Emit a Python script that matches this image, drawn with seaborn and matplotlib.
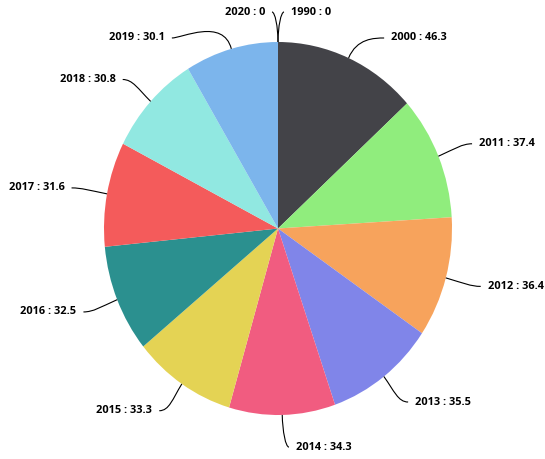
import numpy as np
import matplotlib
matplotlib.use("Agg")
import matplotlib.pyplot as plt
import seaborn as sns
from matplotlib.path import Path
from matplotlib.patches import PathPatch

# ---- data ----
years = ["1990", "2000", "2011", "2012", "2013", "2014", "2015",
         "2016", "2017", "2018", "2019", "2020"]
values = [0, 46.3, 37.4, 36.4, 35.5, 34.3, 33.3, 32.5, 31.6, 30.8, 30.1, 0]
palette = ["#7cb5ec", "#434348", "#90ed7d", "#f7a35c", "#8085e9", "#f15c80",
           "#e4d354", "#2b908f", "#f45b5b", "#91e8e1", "#7cb5ec", "#434348"]

sns.set_theme(style="white")
plt.rcParams["font.family"] = ["Open Sans", "DejaVu Sans"]

W, H = 545, 459
S = 186.5 / 174.0          # vertical stretch of the reference
fig = plt.figure(figsize=(W / 100, H / 100), dpi=100)
ax = fig.add_axes([0, 0, 1, 1])

cx, cy_px, r = 278.0, 228.5, 174.0
cy = (H - cy_px) / S
colors = sns.color_palette(palette)

ax.pie(values, colors=colors, startangle=90, counterclock=False,
       center=(cx, cy), radius=r, wedgeprops=dict(linewidth=0), frame=True)
ax.set_xlim(0, W)
ax.set_ylim(0, H / S)
ax.set_aspect("auto")
ax.axis("off")

# ---- labels with soft connectors ----
total = float(sum(values))
cum = np.cumsum([0] + values)
mids = [(cum[i] + values[i] / 2) / total * 2 * np.pi for i in range(len(values))]

R = 204.0
top_margin_px = 12.0
gap_px = 26.0

items = []
for i, phi in enumerate(mids):
    side = 1 if phi < np.pi else -1
    y_nat = cy_px - R * np.cos(phi) * S
    items.append(dict(i=i, phi=phi, side=side, y_nat=y_nat, y_px=y_nat,
                      y_x=y_nat))

for side in (1, -1):
    grp = sorted([it for it in items if it["side"] == side], key=lambda d: d["y_px"])
    prev = None
    for it in grp:
        y = it["y_px"]
        if y < top_margin_px:
            y = top_margin_px           # clamp: keep natural x
        elif prev is not None and y < prev + gap_px and it["y_px"] < cy_px:
            y = prev + gap_px           # pushed: x follows the new y
            it["y_x"] = y
        it["y_px"] = y
        prev = y

for it in items:
    i, phi, side = it["i"], it["phi"], it["side"]
    ly = (H - it["y_px"]) / S
    lyx = (H - it["y_x"]) / S
    dy = np.clip(lyx - cy, -R, R)
    dx = np.sqrt(R ** 2 - dy ** 2) + 6
    lx = cx + side * dx
    tx, ty = cx + r * np.sin(phi), cy + r * np.cos(phi)
    dist = np.hypot(lx - tx, ly - ty)
    k = 0.5 * dist
    c1 = (tx + k * np.sin(phi), ty + k * np.cos(phi))
    h = min(10.0, 0.5 * abs(lx - tx))
    c2 = (lx - side * h, ly)
    path = Path([(tx, ty), c1, c2, (lx, ly)],
                [Path.MOVETO, Path.CURVE4, Path.CURVE4, Path.CURVE4])
    ax.add_patch(PathPatch(path, fill=False, edgecolor="#000000", lw=0.8,
                           zorder=3))
    ax.text(lx + side * 7, ly, f"{years[i]} : {values[i]:g}",
            ha="left" if side > 0 else "right", va="center",
            fontsize=7.9, fontweight="bold", color="#000000", zorder=4)

fig.savefig("out.png", dpi=100)
